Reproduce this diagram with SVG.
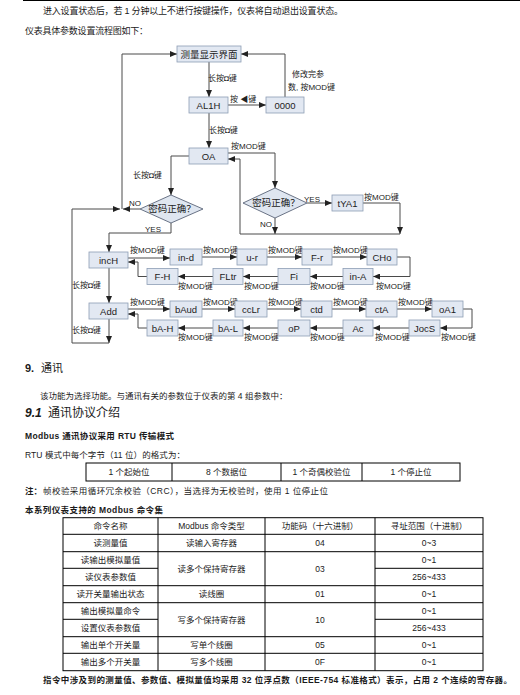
<svg xmlns="http://www.w3.org/2000/svg" width="520" height="695" viewBox="0 0 520 695">
<style>
.t{font-family:"Liberation Sans","Noto Sans CJK SC",sans-serif;fill:#1a1a1a}
.b{font-weight:bold}
.bx{fill:#e2e8f2;stroke:#8d9db5;stroke-width:0.8}
.dm{fill:#dfe6f0;stroke:#5a6478;stroke-width:0.9}
.nt{font-family:"Liberation Sans","Noto Sans CJK SC",sans-serif;font-size:9.5px;fill:#222;text-anchor:middle}
.lb{font-family:"Liberation Sans","Noto Sans CJK SC",sans-serif;font-size:8px;fill:#222}
.ln{fill:none;stroke:#4a4a4a;stroke-width:1}
.ar{marker-end:url(#ah)}
.tb{fill:none;stroke:#000;stroke-width:1}
.tc{font-family:"Liberation Sans","Noto Sans CJK SC",sans-serif;font-size:8.5px;fill:#1a1a1a;text-anchor:middle}
</style>
<defs>
<marker id="ah" markerWidth="7" markerHeight="6" refX="7" refY="3" orient="auto" markerUnits="userSpaceOnUse">
<path d="M0,0 L7,3 L0,6 Z" fill="#222"/>
</marker>
</defs>
<rect width="520" height="695" fill="#fff"/>
<line x1="23" y1="0.5" x2="520" y2="0.5" stroke="#000" stroke-width="1.2"/>
<text class="t" x="43" y="14" font-size="9" textLength="300">进入设置状态后，若 1 分钟以上不进行按键操作，仪表将自动退出设置状态。</text>
<text class="t" x="25" y="34" font-size="9" textLength="123">仪表具体参数设置流程图如下：</text>

<g id="connectors">
<path class="ln ar" d="M122,209 V54 H177"/>
<path class="ln ar" d="M209,62 V97"/>
<path class="ln ar" d="M285,97 V54 H241"/>
<path class="ln ar" d="M228,105 H266"/>
<path class="ln ar" d="M209,113 V148"/>
<path class="ln ar" d="M228,153 H275 V188"/>
<path class="ln ar" d="M307,203 H332"/>
<path class="ln ar" d="M363,203 H400 V234"/>
<path class="ln ar" d="M275,218 V234"/>
<path class="ln ar" d="M400,234 H240 V159 H228"/>
<path class="ln ar" d="M189,156 H171 V195"/>
<path class="ln ar" d="M140,209 H123"/>
<path class="ln ar" d="M109,343 H72 V209 H120"/>
<path class="ln ar" d="M171,223 V233 H109 V252"/>
<path class="ln ar" d="M128,258 H170"/>
<path class="ln ar" d="M202,257 H237"/>
<path class="ln ar" d="M267,257 H302"/>
<path class="ln ar" d="M332,257 H367"/>
<path class="ln ar" d="M397,257 H410 V276.5 H373"/>
<path class="ln ar" d="M343,276.5 H310"/>
<path class="ln ar" d="M278,276.5 H243"/>
<path class="ln ar" d="M213,276.5 H178"/>
<path class="ln ar" d="M147,276.5 H138 V262 H128"/>
<path class="ln ar" d="M109,268 V303"/>
<path class="ln ar" d="M128,309 H170"/>
<path class="ln ar" d="M202,309 H235"/>
<path class="ln ar" d="M267,309 H301"/>
<path class="ln ar" d="M332,309 H366"/>
<path class="ln ar" d="M397,309 H432"/>
<path class="ln ar" d="M463,309 H472 V328 H440"/>
<path class="ln ar" d="M409,328 H373"/>
<path class="ln ar" d="M343,328 H310"/>
<path class="ln ar" d="M278,328 H243"/>
<path class="ln ar" d="M213,328 H178"/>
<path class="ln ar" d="M147,328 H138 V314 H128"/>
<path class="ln ar" d="M109,319 V343"/>
</g>

<g id="labels">
<text class="lb" x="208" y="80.5" font-size="9">长按◘键</text>
<text class="lb" x="292" y="77" font-size="9">修改完参</text>
<text class="lb" x="288" y="89.5">数, 按MOD键</text>
<text class="lb" x="230" y="102" font-size="9">按 ◀键</text>
<text class="lb" x="209" y="132.5" font-size="9">长按◘键</text>
<text class="lb" x="231" y="148.5">按MOD键</text>
<text class="lb" x="133" y="177.5" font-size="9">长按◘键</text>
<text class="lb" x="129" y="205.5" font-size="9">NO</text>
<text class="lb" x="145" y="231.5" font-size="9">YES</text>
<text class="lb" x="304" y="201.5" font-size="9">YES</text>
<text class="lb" x="364" y="200">按MOD键</text>
<text class="lb" x="260" y="227" font-size="9">NO</text>
<text class="lb" x="130" y="253">按MOD键</text>
<text class="lb" x="203" y="253">按MOD键</text>
<text class="lb" x="268" y="253">按MOD键</text>
<text class="lb" x="333" y="253">按MOD键</text>
<text class="lb" x="376" y="288.5">按MOD键</text>
<text class="lb" x="310" y="288.5">按MOD键</text>
<text class="lb" x="244" y="288.5">按MOD键</text>
<text class="lb" x="178" y="288.5">按MOD键</text>
<text class="lb" x="72" y="287.5" font-size="9">长按◘键</text>
<text class="lb" x="130" y="305">按MOD键</text>
<text class="lb" x="203" y="305">按MOD键</text>
<text class="lb" x="268" y="305">按MOD键</text>
<text class="lb" x="333" y="305">按MOD键</text>
<text class="lb" x="398" y="305">按MOD键</text>
<text class="lb" x="178" y="339.5">按MOD键</text>
<text class="lb" x="244" y="339.5">按MOD键</text>
<text class="lb" x="310" y="339.5">按MOD键</text>
<text class="lb" x="375" y="339.5">按MOD键</text>
<text class="lb" x="441" y="339.5">按MOD键</text>
<text class="lb" x="72" y="332.5" font-size="9">长按◘键</text>
</g>

<g id="n-measure"><rect class="bx" x="177" y="46" width="64" height="16"/><text class="nt" x="209" y="57.5">测量显示界面</text></g>
<g id="n-AL1H"><rect class="bx" x="189" y="97" width="39" height="16"/><text class="nt" x="208.5" y="108.5">AL1H</text></g>
<g id="n-0000"><rect class="bx" x="266" y="97" width="38" height="16"/><text class="nt" x="285" y="108.5">0000</text></g>
<g id="n-OA"><rect class="bx" x="189" y="148" width="39" height="16"/><text class="nt" x="208.5" y="159.5">OA</text></g>
<g id="n-pw1"><polygon class="dm" points="171,195 203,209 171,223 140,209"/><text class="nt" x="172" y="212" font-size="8.5">密码正确？</text></g>
<g id="n-pw2"><polygon class="dm" points="275,188 307,203 275,218 243,203"/><text class="nt" x="276" y="206" font-size="8.5">密码正确？</text></g>
<g id="n-tYA1"><rect class="bx" x="332" y="195" width="31" height="16"/><text class="nt" x="347.5" y="206.5">tYA1</text></g>
<g id="n-incH"><rect class="bx" x="89" y="252" width="39" height="16"/><text class="nt" x="108.5" y="263.5">incH</text></g>
<g id="n-in-d"><rect class="bx" x="170" y="249" width="32" height="16"/><text class="nt" x="186" y="260.5">in-d</text></g>
<g id="n-u-r"><rect class="bx" x="237" y="249" width="30" height="16"/><text class="nt" x="252" y="260.5">u-r</text></g>
<g id="n-F-r"><rect class="bx" x="302" y="249" width="30" height="16"/><text class="nt" x="317" y="260.5">F-r</text></g>
<g id="n-CHo"><rect class="bx" x="367" y="249" width="30" height="16"/><text class="nt" x="382" y="260.5">CHo</text></g>
<g id="n-F-H"><rect class="bx" x="147" y="268.5" width="31" height="16"/><text class="nt" x="162.5" y="280">F-H</text></g>
<g id="n-FLtr"><rect class="bx" x="213" y="268.5" width="30" height="16"/><text class="nt" x="228" y="280">FLtr</text></g>
<g id="n-Fi"><rect class="bx" x="278" y="268.5" width="32" height="16"/><text class="nt" x="294" y="280">Fi</text></g>
<g id="n-in-A"><rect class="bx" x="343" y="268.5" width="30" height="16"/><text class="nt" x="358" y="280">in-A</text></g>
<g id="n-Add"><rect class="bx" x="89" y="303" width="39" height="16"/><text class="nt" x="108.5" y="314.5">Add</text></g>
<g id="n-bAud"><rect class="bx" x="170" y="301" width="32" height="16"/><text class="nt" x="186" y="312.5">bAud</text></g>
<g id="n-ccLr"><rect class="bx" x="235" y="301" width="32" height="16"/><text class="nt" x="251" y="312.5">ccLr</text></g>
<g id="n-ctd"><rect class="bx" x="301" y="301" width="31" height="16"/><text class="nt" x="316.5" y="312.5">ctd</text></g>
<g id="n-ctA"><rect class="bx" x="366" y="301" width="31" height="16"/><text class="nt" x="381.5" y="312.5">ctA</text></g>
<g id="n-oA1"><rect class="bx" x="432" y="301" width="31" height="16"/><text class="nt" x="447.5" y="312.5">oA1</text></g>
<g id="n-bA-H"><rect class="bx" x="147" y="320" width="31" height="16"/><text class="nt" x="162.5" y="331.5">bA-H</text></g>
<g id="n-bA-L"><rect class="bx" x="213" y="320" width="30" height="16"/><text class="nt" x="228" y="331.5">bA-L</text></g>
<g id="n-oP"><rect class="bx" x="278" y="320" width="32" height="16"/><text class="nt" x="294" y="331.5">oP</text></g>
<g id="n-Ac"><rect class="bx" x="343" y="320" width="30" height="16"/><text class="nt" x="358" y="331.5">Ac</text></g>
<g id="n-JocS"><rect class="bx" x="409" y="320" width="31" height="16"/><text class="nt" x="424.5" y="331.5">JocS</text></g>

<text class="t b" x="25" y="372" font-size="11">9.</text>
<text class="t" x="41" y="372" font-size="11">通讯</text>
<text class="t" x="40" y="399" font-size="8.5">该功能为选择功能。与通讯有关的参数位于仪表的第 4 组参数中：</text>
<text class="t b" x="25" y="416.5" font-size="12" font-style="italic">9.1</text>
<text class="t" x="48" y="416.5" font-size="12">通讯协议介绍</text>
<text class="t b" x="25" y="439" font-size="8.5" textLength="149">Modbus 通讯协议采用 RTU 传输模式</text>
<text class="t" x="25" y="458" font-size="8.5" textLength="160">RTU 模式中每个字节（11 位）的格式为：</text>

<g id="table1">
<rect class="tb" x="86" y="463" width="374" height="18"/>
<line class="tb" x1="172" y1="463" x2="172" y2="481"/>
<line class="tb" x1="281" y1="463" x2="281" y2="481"/>
<line class="tb" x1="362" y1="463" x2="362" y2="481"/>
<text class="tc" x="129" y="475">1 个起始位</text>
<text class="tc" x="226.5" y="475">8 个数据位</text>
<text class="tc" x="321.5" y="475">1 个奇偶校验位</text>
<text class="tc" x="411" y="475">1 个停止位</text>
</g>
<text class="t b" x="25" y="494" font-size="8.5">注：</text>
<text class="t" x="43" y="494" font-size="8.5" textLength="285">帧校验采用循环冗余校验（CRC），当选择为无校验时，使用 1 位停止位</text>
<text class="t b" x="25" y="513" font-size="8.5" textLength="138">本系列仪表支持的 Modbus 命令集</text>

<g id="table2">
<rect class="tb" x="63" y="517.7" width="420" height="153"/>
<line class="tb" x1="158" y1="517.7" x2="158" y2="670.7"/>
<line class="tb" x1="265" y1="517.7" x2="265" y2="670.7"/>
<line class="tb" x1="375" y1="517.7" x2="375" y2="670.7"/>
<line class="tb" x1="63" y1="534.3" x2="483" y2="534.3"/>
<line class="tb" x1="63" y1="551.7" x2="483" y2="551.7"/>
<line class="tb" x1="63" y1="568.3" x2="158" y2="568.3"/>
<line class="tb" x1="375" y1="568.3" x2="483" y2="568.3"/>
<line class="tb" x1="63" y1="585.7" x2="483" y2="585.7"/>
<line class="tb" x1="63" y1="602.7" x2="483" y2="602.7"/>
<line class="tb" x1="63" y1="619.3" x2="158" y2="619.3"/>
<line class="tb" x1="375" y1="619.3" x2="483" y2="619.3"/>
<line class="tb" x1="63" y1="636.7" x2="483" y2="636.7"/>
<line class="tb" x1="63" y1="653.3" x2="483" y2="653.3"/>
<text class="tc" x="110.5" y="529">命令名称</text>
<text class="tc" x="211.5" y="529">Modbus 命令类型</text>
<text class="tc" x="320" y="529">功能码（十六进制）</text>
<text class="tc" x="429" y="529">寻址范围（十进制）</text>
<text class="tc" x="110.5" y="546">读测量值</text>
<text class="tc" x="211.5" y="546">读输入寄存器</text>
<text class="tc" x="320" y="546">04</text>
<text class="tc" x="429" y="546">0~3</text>
<text class="tc" x="110.5" y="563">读输出模拟量值</text>
<text class="tc" x="429" y="563">0~1</text>
<text class="tc" x="211.5" y="571.5">读多个保持寄存器</text>
<text class="tc" x="320" y="571.5">03</text>
<text class="tc" x="110.5" y="580">读仪表参数值</text>
<text class="tc" x="429" y="580">256~433</text>
<text class="tc" x="110.5" y="597">读开关量输出状态</text>
<text class="tc" x="211.5" y="597">读线圈</text>
<text class="tc" x="320" y="597">01</text>
<text class="tc" x="429" y="597">0~1</text>
<text class="tc" x="110.5" y="614">输出模拟量命令</text>
<text class="tc" x="429" y="614">0~1</text>
<text class="tc" x="211.5" y="622.5">写多个保持寄存器</text>
<text class="tc" x="320" y="622.5">10</text>
<text class="tc" x="110.5" y="631">设置仪表参数值</text>
<text class="tc" x="429" y="631">256~433</text>
<text class="tc" x="110.5" y="648">输出单个开关量</text>
<text class="tc" x="211.5" y="648">写单个线圈</text>
<text class="tc" x="320" y="648">05</text>
<text class="tc" x="429" y="648">0~1</text>
<text class="tc" x="110.5" y="665">输出多个开关量</text>
<text class="tc" x="211.5" y="665">写多个线圈</text>
<text class="tc" x="320" y="665">0F</text>
<text class="tc" x="429" y="665">0~1</text>
</g>
<text class="t b" x="43" y="683" font-size="8.5" textLength="469">指令中涉及到的测量值、参数值、模拟量值均采用 32 位浮点数（IEEE-754 标准格式）表示，占用 2 个连续的寄存器。</text>
</svg>
